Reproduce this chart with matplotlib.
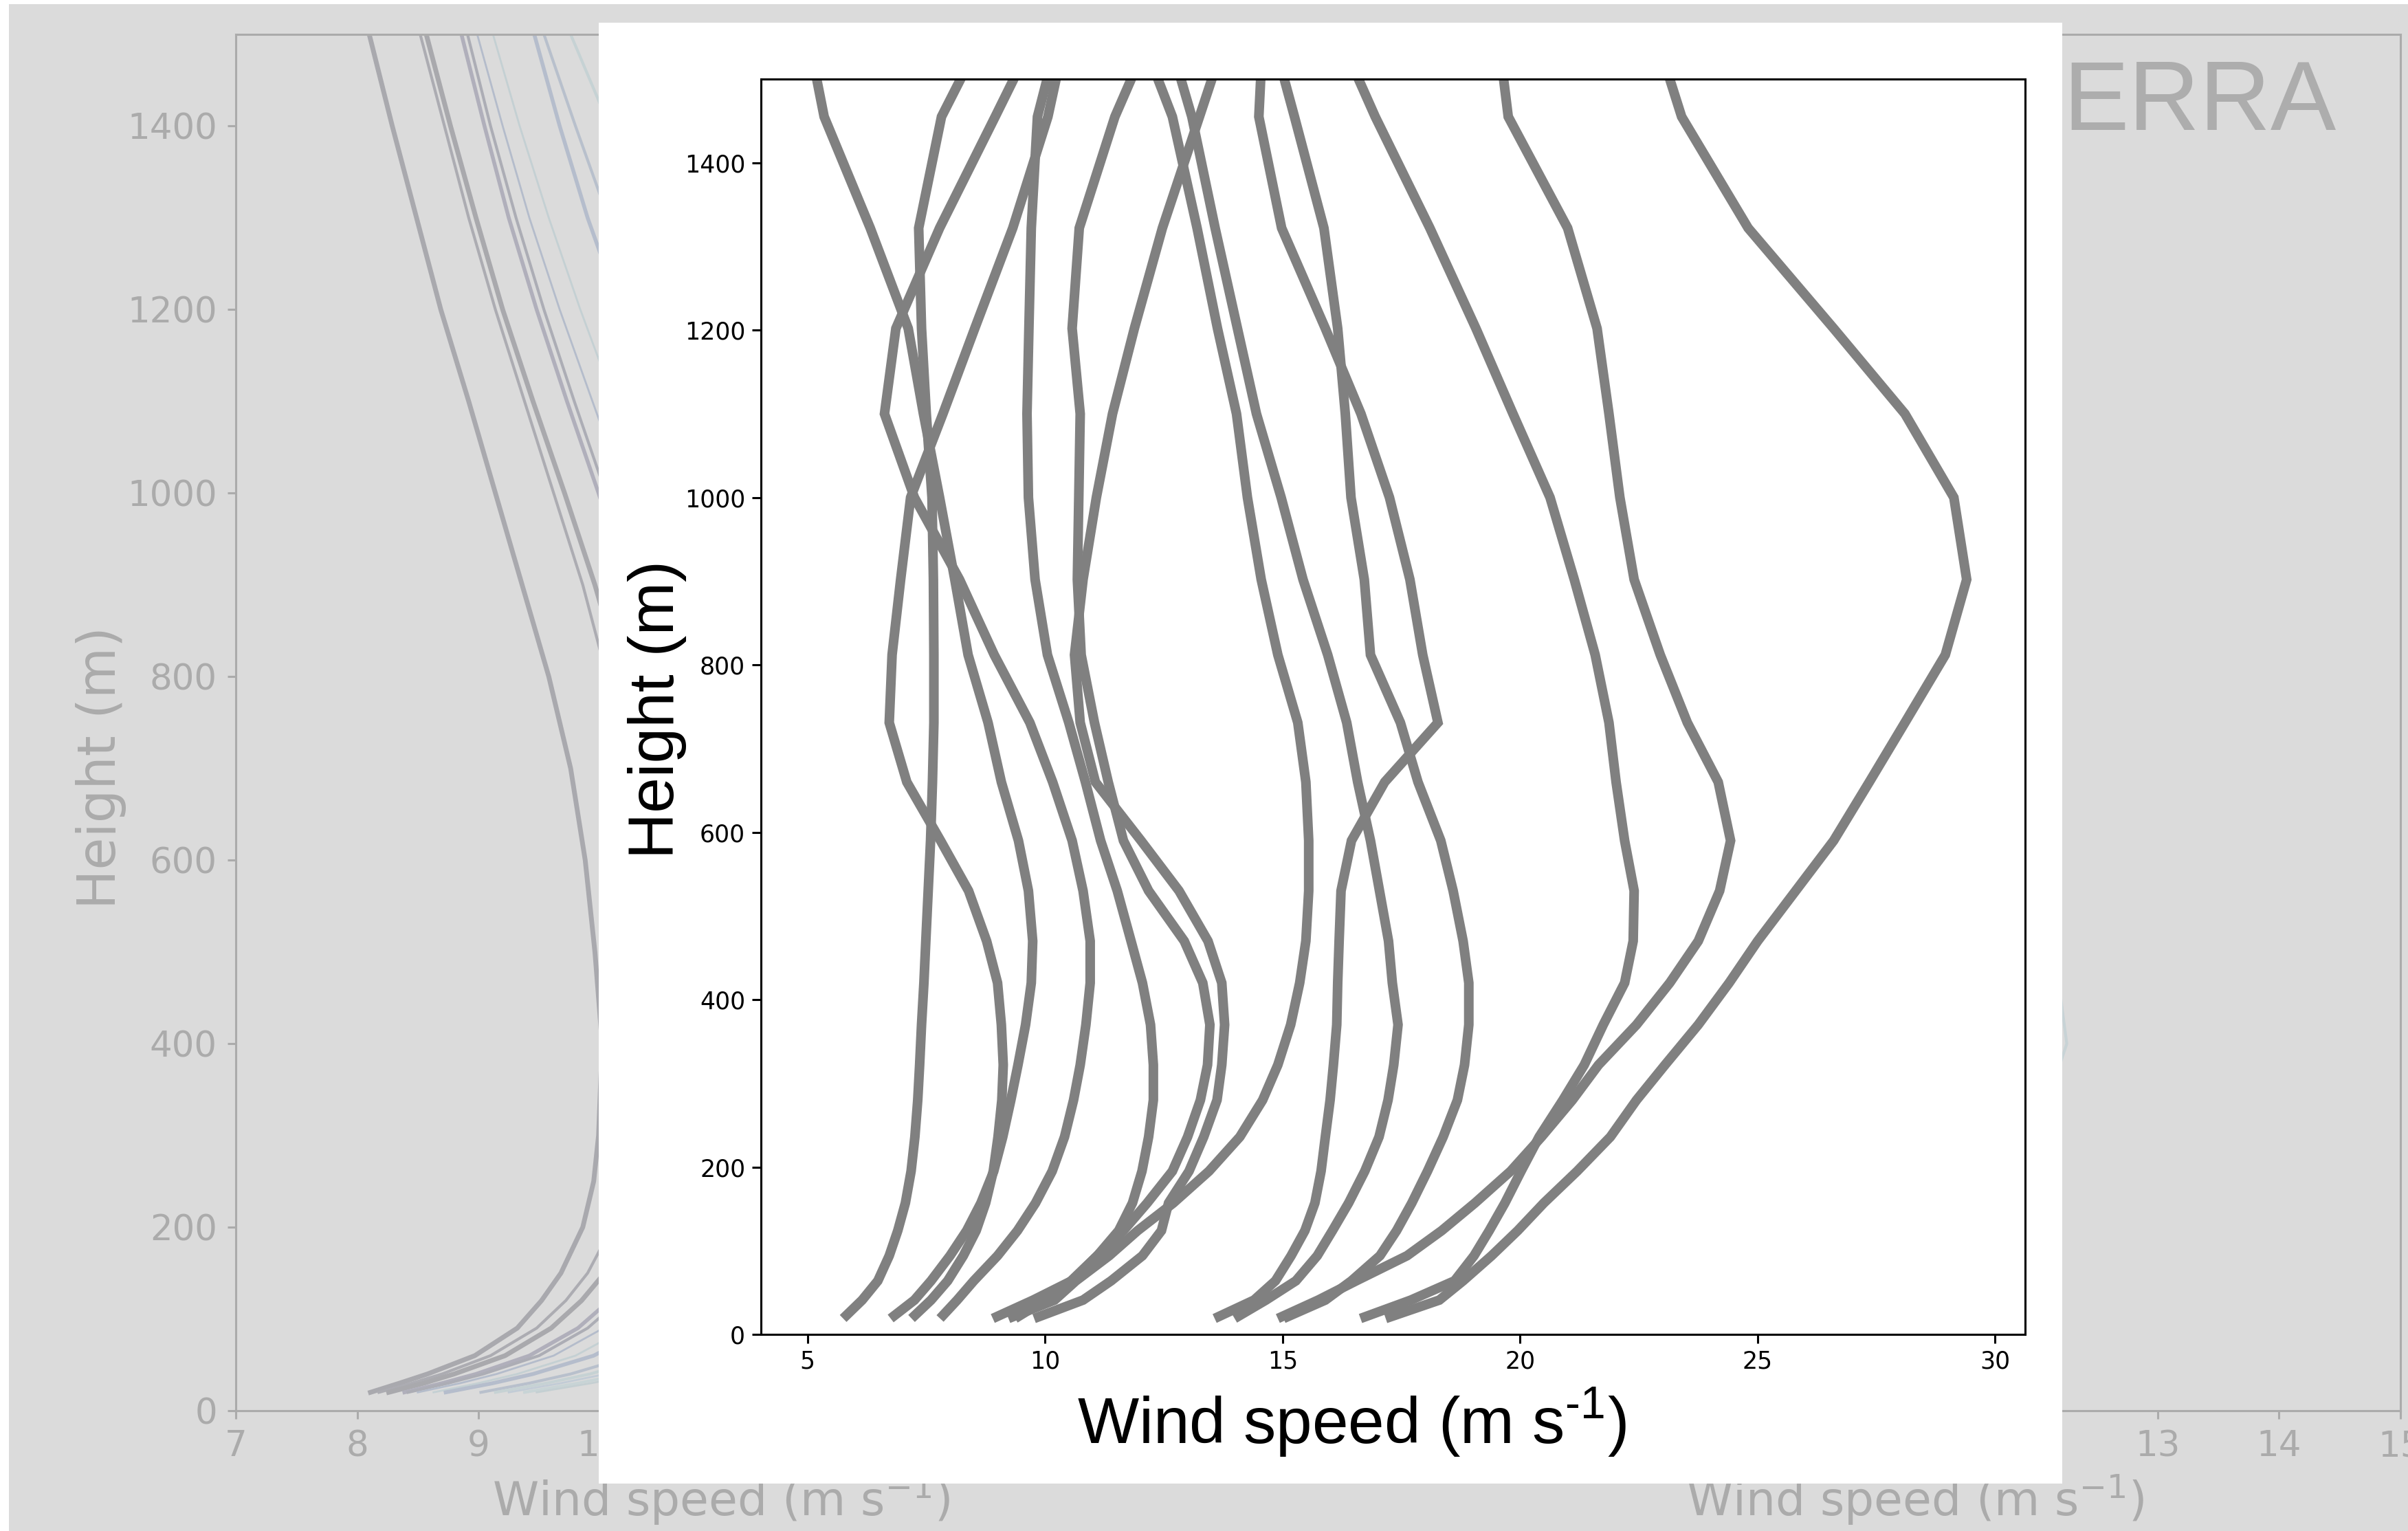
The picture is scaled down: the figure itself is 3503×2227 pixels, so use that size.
import matplotlib.pyplot as plt
from matplotlib.patches import Rectangle

W, H, DPI = 3503, 2227, 100

# ---- inset: wind profiles on shared model levels (m) ----
levels = [19, 41, 64, 94, 124, 157, 195, 236, 280, 322, 370, 420, 470,
          530, 590, 660, 731, 812, 902, 1000, 1100, 1202, 1322, 1455, 1570]

prof_a = [5.75, 6.15, 6.48, 6.72, 6.90, 7.06, 7.18, 7.26, 7.32, 7.36, 7.40, 7.45, 7.49,
          7.54, 7.59, 7.63, 7.66, 7.66, 7.65, 7.62, 7.50, 7.40, 7.34, 7.82, 8.85]
prof_b = [6.75, 7.25, 7.60, 8.00, 8.35, 8.65, 8.92, 9.11, 9.28, 9.43, 9.59, 9.71, 9.74,
          9.65, 9.44, 9.08, 8.80, 8.38, 8.10, 7.78, 7.44, 7.12, 6.32, 5.35, 4.95]
prof_c = [7.19, 7.60, 7.95, 8.28, 8.55, 8.75, 8.91, 9.01, 9.09, 9.12, 9.08, 9.00, 8.77,
          8.39, 7.80, 7.09, 6.72, 6.78, 6.96, 7.17, 7.85, 8.52, 9.32, 10.06, 10.50]
prof_d = [7.79, 8.15, 8.50, 9.00, 9.42, 9.80, 10.15, 10.41, 10.60, 10.74, 10.86, 10.95, 10.95,
          10.80, 10.57, 10.16, 9.68, 8.93, 8.20, 7.25, 6.62, 6.86, 7.78, 8.95, 9.95]
prof_e = [8.90, 9.75, 10.56, 11.10, 11.55, 11.84, 12.04, 12.18, 12.28, 12.28, 12.22, 12.05, 11.81,
          11.52, 11.17, 10.85, 10.50, 10.05, 9.79, 9.65, 9.62, 9.66, 9.71, 9.84, 10.36]
prof_f = [9.23, 10.20, 10.65, 11.35, 11.95, 12.70, 13.45, 14.10, 14.58, 14.90, 15.17, 15.36, 15.49,
          15.55, 15.55, 15.49, 15.32, 14.90, 14.55, 14.26, 14.03, 13.63, 13.20, 12.68, 11.90]
prof_g = [9.37, 10.00, 10.55, 11.10, 11.65, 12.15, 12.68, 13.00, 13.27, 13.42, 13.47, 13.32, 12.93,
          12.18, 11.65, 11.33, 11.04, 10.76, 10.68, 10.71, 10.74, 10.57, 10.72, 11.47, 12.35]
prof_h = [9.77, 10.80, 11.39, 12.05, 12.45, 12.60, 13.03, 13.34, 13.62, 13.72, 13.78, 13.72, 13.43,
          12.82, 12.02, 11.06, 10.74, 10.62, 10.80, 11.08, 11.42, 11.88, 12.47, 13.25, 13.92]
prof_i = [13.57, 14.40, 14.85, 15.18, 15.47, 15.68, 15.81, 15.90, 16.00, 16.07, 16.14, 16.16, 16.19,
          16.23, 16.45, 17.15, 18.27, 17.95, 17.68, 17.25, 16.65, 15.90, 14.98, 14.50, 14.60]
prof_j = [13.99, 14.65, 15.28, 15.73, 16.05, 16.39, 16.73, 17.03, 17.22, 17.34, 17.43, 17.31, 17.23,
          17.04, 16.85, 16.58, 16.35, 15.95, 15.43, 14.97, 14.45, 14.05, 13.58, 13.09, 12.50]
prof_k = [15.02, 15.90, 16.45, 17.05, 17.40, 17.72, 18.05, 18.38, 18.68, 18.83, 18.92, 18.92, 18.80,
          18.59, 18.33, 17.85, 17.48, 16.85, 16.72, 16.44, 16.32, 16.16, 15.87, 15.25, 14.70]
prof_l = [14.90, 15.75, 16.55, 17.62, 18.35, 19.05, 19.80, 20.45, 21.10, 21.65, 22.45, 23.15, 23.75,
          24.20, 24.43, 24.17, 23.52, 22.95, 22.40, 22.10, 21.87, 21.62, 21.00, 19.75, 19.50]
prof_m = [16.64, 17.70, 18.62, 19.03, 19.35, 19.68, 20.02, 20.40, 20.90, 21.35, 21.75, 22.20, 22.38,
          22.40, 22.20, 22.02, 21.87, 21.58, 21.14, 20.63, 19.85, 19.07, 18.10, 16.95, 16.05]
prof_n = [17.17, 18.30, 18.80, 19.40, 19.95, 20.50, 21.20, 21.90, 22.45, 23.05, 23.75, 24.40, 25.00,
          25.80, 26.60, 27.35, 28.10, 28.95, 29.40, 29.13, 28.10, 26.60, 24.80, 23.40, 22.76]

profiles = [prof_a, prof_b, prof_c, prof_d, prof_e, prof_f, prof_g,
            prof_h, prof_i, prof_j, prof_k, prof_l, prof_m, prof_n]

# ---- faded background panels ----
bg_heights = [20, 30, 40, 60, 90, 120, 150, 200, 250, 300, 400, 500, 600, 700, 800,
              900, 1000, 1100, 1200, 1300, 1400, 1500]
bg_left = [
    [8.11, 8.35, 8.58, 8.97, 9.32, 9.52, 9.68, 9.86, 9.95, 9.99, 10.02, 9.96, 9.88, 9.76, 9.58,
     9.36, 9.14, 8.92, 8.69, 8.49, 8.29, 8.10],
    [8.18, 8.45, 8.70, 9.10, 9.48, 9.72, 9.90, 10.10, 10.22, 10.30, 10.38, 10.38, 10.32, 10.22,
     10.06, 9.86, 9.62, 9.38, 9.14, 8.92, 8.72, 8.52],
    [8.26, 8.55, 8.80, 9.22, 9.60, 9.85, 10.04, 10.25, 10.38, 10.46, 10.55, 10.55, 10.48, 10.36,
     10.18, 9.96, 9.71, 9.45, 9.20, 8.98, 8.77, 8.57],
    [8.39, 8.70, 8.98, 9.42, 9.82, 10.08, 10.28, 10.50, 10.64, 10.72, 10.82, 10.82, 10.76, 10.64,
     10.46, 10.24, 9.99, 9.73, 9.48, 9.25, 9.05, 8.86],
    [8.42, 8.75, 9.04, 9.50, 9.90, 10.16, 10.36, 10.58, 10.72, 10.80, 10.90, 10.90, 10.84, 10.72,
     10.54, 10.31, 10.05, 9.79, 9.54, 9.31, 9.10, 8.91],
    [8.50, 8.85, 9.15, 9.62, 10.03, 10.30, 10.50, 10.72, 10.86, 10.95, 11.05, 11.06, 11.00, 10.88,
     10.70, 10.47, 10.21, 9.94, 9.67, 9.42, 9.20, 8.99],
    [8.63, 9.00, 9.32, 9.80, 10.22, 10.50, 10.70, 10.92, 11.06, 11.15, 11.25, 11.26, 11.20, 11.08,
     10.90, 10.66, 10.40, 10.12, 9.84, 9.58, 9.34, 9.12],
    [8.73, 9.12, 9.45, 9.95, 10.38, 10.66, 10.86, 11.10, 11.25, 11.35, 11.47, 11.50, 11.46, 11.36,
     11.20, 10.98, 10.73, 10.45, 10.17, 9.90, 9.67, 9.46],
    [9.02, 9.42, 9.76, 10.27, 10.70, 10.98, 11.18, 11.42, 11.57, 11.67, 11.78, 11.80, 11.75, 11.64,
     11.47, 11.24, 10.97, 10.67, 10.37, 10.07, 9.80, 9.54],
    [9.14, 9.56, 9.92, 10.45, 10.90, 11.20, 11.42, 11.68, 11.84, 11.95, 12.08, 12.12, 12.08, 11.98,
     11.82, 11.60, 11.33, 11.03, 10.72, 10.40, 10.08, 9.76],
    [9.25, 9.68, 10.05, 10.60, 11.06, 11.37, 11.60, 11.87, 12.04, 12.16, 12.30, 12.35, 12.32, 12.23,
     12.08, 11.87, 11.62, 11.34, 11.04, 10.73, 10.42, 10.10],
    [9.38, 9.82, 10.20, 10.76, 11.23, 11.55, 11.79, 12.07, 12.25, 12.38, 12.53, 12.59, 12.57, 12.49,
     12.35, 12.15, 11.91, 11.64, 11.35, 11.04, 10.72, 10.30],
    [9.48, 9.93, 10.32, 10.90, 11.38, 11.71, 11.96, 12.25, 12.44, 12.58, 12.74, 12.81, 12.80, 12.73,
     12.60, 12.41, 12.18, 11.92, 11.63, 11.32, 10.98, 10.50],
]
bg_left_style = [('#a9a9ae', 5), ('#acacb2', 3), ('#a9a9ad', 5), ('#b0afbb', 4), ('#acadb5', 3),
                 ('#b4bccb', 2), ('#c4d0d3', 2), ('#b5bdcc', 4), ('#b8c0cc', 3), ('#c6d2d4', 3),
                 ('#c2ccd6', 2), ('#c8d4d6', 3), ('#c4cfd2', 2)]
bg_right = [8.50, 8.80, 9.05, 9.50, 10.00, 10.40, 10.75, 11.20, 11.60, 12.00, 12.25, 12.15, 12.00,
            11.80, 11.55, 11.25, 10.95, 10.65, 10.35, 10.05, 9.75, 9.45]

bg_grey = '#dbdbdb'
faint = '#ababab'


def px_box(x0, y0, x1, y1):
    # pixel box (origin top-left) -> [left, bottom, width, height] in figure fraction
    return [x0 / W, 1 - y1 / H, (x1 - x0) / W, (y1 - y0) / H]


fig = plt.figure(figsize=(W / DPI, H / DPI), dpi=DPI, facecolor='white')
fig.patches.append(Rectangle((13 / W, 0), 1, 1 - 6 / H, transform=fig.transFigure,
                             facecolor=bg_grey, edgecolor='none', zorder=-5))

for x0, x1 in [(343, 1755), (2080, 3492)]:
    bx = fig.add_axes(px_box(x0, 50, x1, 2052))
    bx.set_facecolor('none')
    bx.set_xlim(7, 15)
    bx.set_ylim(0, 1500)
    bx.set_xticks(range(7, 16))
    bx.set_yticks(range(0, 1401, 200))
    for sp in bx.spines.values():
        sp.set_color(faint)
        sp.set_linewidth(2.2)
    bx.tick_params(colors=faint, labelcolor=faint, labelsize=37, length=8.6, width=2.2, pad=11)
    if x0 < 1000:
        for vals, (col, lw) in zip(bg_left, bg_left_style):
            bx.plot(vals, bg_heights, color=col, lw=lw)
    else:
        bx.plot(bg_right, bg_heights, color='#c8d3d6', lw=3)
    fig.text((x0 + x1) / 2 / W, 1 - 2205 / H, 'Wind speed (m s$^{-1}$)', ha='center',
             va='baseline', fontsize=49, color=faint, zorder=0.5)

fig.text(147 / W, 1 - 1117 / H, 'Height (m)', rotation=90, ha='center', va='center',
         fontsize=55, color=faint, zorder=0.5)
fig.text(3001 / W, 1 - 189 / H, 'ERRA', ha='left', va='baseline', fontsize=103,
         family='Liberation Sans', color='#adadad', zorder=0.5)

# white card holding the inset
fig.patches.append(Rectangle((871 / W, 1 - 2158 / H), 2129 / W, 2125 / H,
                             transform=fig.transFigure, facecolor='white',
                             edgecolor='none', zorder=1))

ax = fig.add_axes(px_box(1107, 115, 2946, 1941), zorder=2)
ax.set_facecolor('white')
for p in profiles:
    ax.plot(p, levels, color='#808080', lw=10.1, solid_joinstyle='miter',
            solid_capstyle='butt')
ax.set_xlim(4.02, 30.63)
ax.set_ylim(0, 1500)
ax.set_xticks([5, 10, 15, 20, 25, 30])
ax.set_yticks(range(0, 1401, 200))
for sp in ax.spines.values():
    sp.set_linewidth(2.2)
ax.tick_params(labelsize=25, length=9.4, width=2.2, pad=7)

plt.rcParams['mathtext.fontset'] = 'custom'
plt.rcParams['mathtext.rm'] = 'Liberation Sans'
fig.text(956 / W, 1 - 1032 / H, 'Height (m)', rotation=90, ha='center', va='center',
         fontsize=67, family='Liberation Sans', zorder=5)
fig.text(1966 / W, 1 - 2100 / H, r'Wind speed (m s$^{\text{-1}}$)', ha='center',
         va='baseline', fontsize=68, family='Liberation Sans', zorder=5)

fig.savefig('out.png', dpi=DPI, facecolor='white')
